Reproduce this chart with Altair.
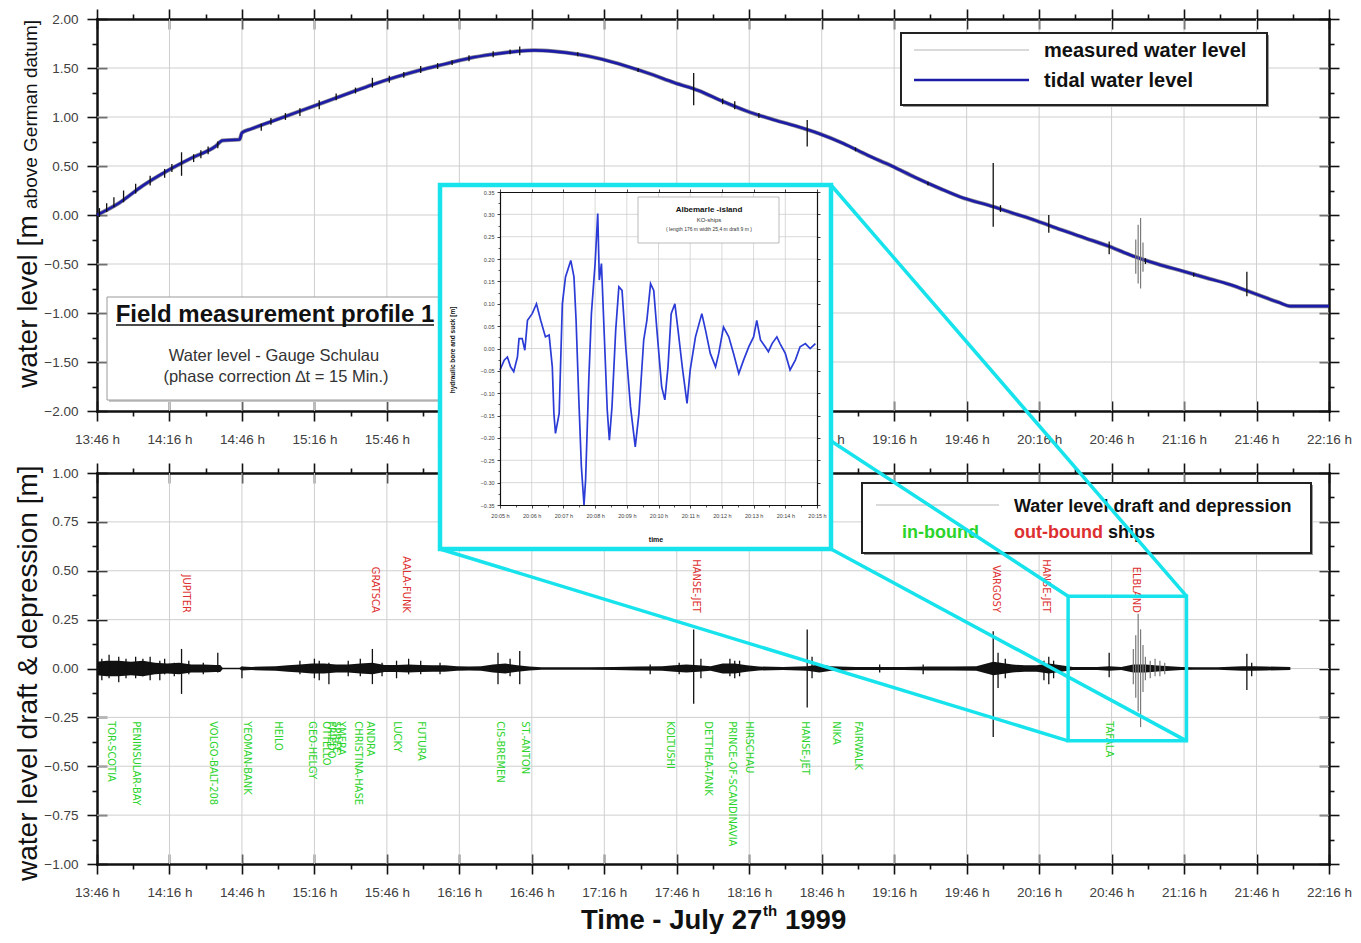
import altair as alt
import pandas as pd

DAY = "1999-07-27 "

# ---------------- axis tick values / labels ----------------
major_ticks = ["13:46", "14:16", "14:46", "15:16", "15:46", "16:16", "16:46", "17:16", "17:46",
               "18:16", "18:46", "19:16", "19:46", "20:16", "20:46", "21:16", "21:46", "22:16"]
minor_ticks = ["14:01", "14:31", "15:01", "15:31", "16:01", "16:31", "17:01", "17:31", "18:01",
               "18:31", "19:01", "19:31", "20:01", "20:31", "21:01", "21:31", "22:01"]
top_major_y = [-2.0, -1.5, -1.0, -0.5, 0.0, 0.5, 1.0, 1.5, 2.0]
top_minor_y = [-1.75, -1.25, -0.75, -0.25, 0.25, 0.75, 1.25, 1.75]
bot_major_y = [-1.0, -0.75, -0.5, -0.25, 0.0, 0.25, 0.5, 0.75, 1.0]
bot_minor_y = [-0.875, -0.625, -0.375, -0.125, 0.125, 0.375, 0.625, 0.875]
inset_major_t = ["20:05", "20:06", "20:07", "20:08", "20:09", "20:10", "20:11", "20:12", "20:13", "20:14", "20:15"]
inset_minor_t = ["20:05:30", "20:06:30", "20:07:30", "20:08:30", "20:09:30", "20:10:30", "20:11:30",
                 "20:12:30", "20:13:30", "20:14:30"]
inset_major_y = [-0.35, -0.30, -0.25, -0.20, -0.15, -0.10, -0.05, 0.00, 0.05, 0.10, 0.15, 0.20, 0.25, 0.30, 0.35]
inset_minor_y = [-0.325, -0.275, -0.225, -0.175, -0.125, -0.075, -0.025, 0.025, 0.075, 0.125, 0.175,
                 0.225, 0.275, 0.325]

# ---------------- tidal water level (upper panel) ----------------
tide_time = ["13:46", "13:55", "14:05", "14:15", "14:25", "14:35", "14:38", "14:45", "14:46", "14:50",
             "15:00", "15:10", "15:20", "15:30", "15:40", "15:50", "16:00", "16:10", "16:20", "16:30",
             "16:40", "16:47", "16:55", "17:05", "17:15", "17:25", "17:35", "17:45", "17:55", "18:05",
             "18:15", "18:25", "18:35", "18:45", "18:55", "19:05", "19:15", "19:25", "19:35", "19:45",
             "19:55", "20:05", "20:15", "20:25", "20:35", "20:45", "20:55", "21:05", "21:15", "21:25",
             "21:35", "21:45", "21:55", "22:00", "22:16"]
tide_level = [0.00, 0.12, 0.30, 0.45, 0.58, 0.70, 0.76, 0.77, 0.84, 0.88,
              0.97, 1.06, 1.15, 1.24, 1.33, 1.41, 1.48, 1.54, 1.60, 1.64,
              1.67, 1.68, 1.67, 1.64, 1.59, 1.52, 1.44, 1.35, 1.27, 1.16,
              1.06, 0.98, 0.91, 0.83, 0.73, 0.61, 0.50, 0.38, 0.27, 0.17,
              0.10, 0.02, -0.06, -0.15, -0.235, -0.32, -0.42, -0.50, -0.57, -0.64,
              -0.71, -0.80, -0.89, -0.93, -0.93]

# measured water level: ship induced excursions (upper panel)
top_spike_time = ["13:50", "13:53", "13:57", "14:02", "14:08", "14:14", "14:21", "14:26", "14:32", "14:54",
                  "15:10", "15:18", "15:40", "16:00", "16:20", "16:41", "17:53", "18:10", "18:40", "19:57",
                  "20:20", "20:45", "21:42"]
top_spike_hi = [0.12, 0.18, 0.25, 0.32, 0.40, 0.47, 0.64, 0.62, 0.70, 0.93,
                1.09, 1.17, 1.40, 1.52, 1.63, 1.72, 1.45, 1.16, 0.97, 0.53,
                0.00, -0.27, -0.58]
top_spike_lo = [0.03, 0.08, 0.13, 0.22, 0.30, 0.38, 0.40, 0.54, 0.62, 0.86,
                1.01, 1.08, 1.30, 1.45, 1.57, 1.63, 1.12, 1.08, 0.70, -0.12,
                -0.18, -0.40, -0.83]
# small jitter of the measured level along the tide curve
top_jitter_time = ["13:47", "14:17", "14:29", "14:36", "14:58", "15:04", "15:25", "15:33", "15:47", "15:53",
                   "16:07", "16:13", "16:30", "16:37", "17:05", "17:30", "18:05", "18:20", "19:00", "19:30",
                   "20:00", "21:00", "21:20"]
top_jitter_hi = [0.07, 0.52, 0.66, 0.75, 0.99, 1.04, 1.24, 1.30, 1.42, 1.46,
                 1.55, 1.58, 1.67, 1.69, 1.66, 1.50, 1.19, 1.04, 0.69, 0.34,
                 0.10, -0.44, -0.59]
top_jitter_lo = [-0.02, 0.44, 0.58, 0.68, 0.92, 0.97, 1.17, 1.24, 1.35, 1.40,
                 1.49, 1.53, 1.61, 1.64, 1.62, 1.46, 1.13, 0.99, 0.65, 0.30,
                 0.03, -0.50, -0.63]
top_gray_time = ["20:56", "20:57", "20:58", "20:59"]
top_gray_hi = [-0.25, -0.10, -0.03, -0.28]
top_gray_lo = [-0.60, -0.70, -0.75, -0.58]

# ---------------- draft and depression (lower panel) ----------------
env_time = ["13:46", "13:50", "13:55", "14:00", "14:05", "14:10", "14:15", "14:20", "14:25", "14:30",
            "14:35", "14:37", "14:38", "14:45", "14:46", "14:50", "14:55", "15:00", "15:05", "15:10",
            "15:15", "15:20", "15:25", "15:30", "15:35", "15:40", "15:45", "15:50", "15:55", "16:00",
            "16:05", "16:10", "16:15", "16:20", "16:25", "16:30", "16:35", "16:40", "16:45", "16:50",
            "17:00", "17:10", "17:20", "17:30", "17:40", "17:45", "17:50", "17:55", "18:00", "18:05",
            "18:10", "18:15", "18:20", "18:30", "18:40", "18:45", "18:50", "19:00", "19:10", "19:20",
            "19:30", "19:40", "19:50", "19:57", "20:00", "20:05", "20:10", "20:15", "20:20", "20:25",
            "20:30", "20:40", "20:45", "20:50", "20:55", "21:00", "21:05", "21:10", "21:15", "21:20",
            "21:30", "21:40", "21:45", "21:50", "22:00"]
env_amp = [0.035, 0.04, 0.04, 0.035, 0.04, 0.03, 0.025, 0.03, 0.02, 0.02,
           0.018, 0.018, 0.004, 0.004, 0.01, 0.008, 0.01, 0.012, 0.016, 0.02,
           0.025, 0.025, 0.02, 0.02, 0.025, 0.03, 0.018, 0.018, 0.02, 0.018,
           0.016, 0.016, 0.012, 0.01, 0.012, 0.02, 0.025, 0.016, 0.01, 0.006,
           0.006, 0.006, 0.008, 0.01, 0.012, 0.016, 0.02, 0.016, 0.012, 0.025,
           0.025, 0.016, 0.01, 0.008, 0.012, 0.02, 0.012, 0.008, 0.008, 0.008,
           0.01, 0.01, 0.012, 0.035, 0.03, 0.02, 0.016, 0.016, 0.025, 0.016,
           0.008, 0.008, 0.012, 0.008, 0.02, 0.02, 0.015, 0.012, 0.008, 0.006,
           0.006, 0.012, 0.012, 0.01, 0.008]

bspike_time = ["13:48", "13:51", "13:55", "13:58", "14:02", "14:05", "14:08", "14:12", "14:14", "14:18",
               "14:21", "14:24", "14:30", "14:36", "14:46", "15:10", "15:16", "15:18", "15:22", "15:30",
               "15:35", "15:40", "15:44", "15:50", "15:55", "16:00", "16:08", "16:32", "16:37", "16:41",
               "17:35", "17:47", "17:53", "17:56", "18:08", "18:10", "18:12", "18:40", "18:42", "19:10",
               "19:28", "19:57", "19:59", "20:02", "20:18", "20:20", "20:22", "20:45", "21:42", "21:44"]
bspike_hi = [0.05, 0.07, 0.06, 0.05, 0.06, 0.05, 0.06, 0.04, 0.05, 0.03,
             0.10, 0.04, 0.03, 0.08, 0.01, 0.04, 0.05, 0.04, 0.03, 0.04,
             0.05, 0.10, 0.03, 0.04, 0.05, 0.04, 0.03, 0.08, 0.05, 0.09,
             0.02, 0.03, 0.20, 0.05, 0.05, 0.04, 0.04, 0.20, 0.06, 0.02,
             0.02, 0.19, 0.08, 0.05, 0.04, 0.06, 0.04, 0.08, 0.075, 0.03]
bspike_lo = [-0.06, -0.05, -0.07, -0.05, -0.05, -0.04, -0.06, -0.06, -0.03, -0.04,
             -0.13, -0.03, -0.03, -0.02, -0.05, -0.03, -0.05, -0.06, -0.08, -0.04,
             -0.04, -0.08, -0.04, -0.05, -0.03, -0.03, -0.03, -0.08, -0.04, -0.08,
             -0.03, -0.03, -0.18, -0.05, -0.04, -0.05, -0.04, -0.20, -0.05, -0.02,
             -0.03, -0.35, -0.10, -0.05, -0.06, -0.08, -0.05, -0.045, -0.11, -0.04]
gspike_time = ["20:55", "20:56", "20:57", "20:58", "20:59", "21:00", "21:02", "21:04", "21:06", "21:08"]
gspike_hi = [0.10, 0.17, 0.28, 0.20, 0.12, 0.06, 0.04, 0.05, 0.04, 0.03]
gspike_lo = [-0.08, -0.15, -0.22, -0.30, -0.12, -0.06, -0.05, -0.04, -0.04, -0.03]

out_ship_time = ["14:23", "15:41", "15:54", "17:54", "19:58", "20:19", "20:56"]
out_ship_name = ["JUPITER", "GRATSCA", "AALA-FUNK", "HANSE-JET", "VARGOSY", "HANSE-JET", "ELBLAND"]
in_ship_time = ["13:52", "14:02", "14:34", "14:48", "15:01", "15:15", "15:21", "15:23", "15:25", "15:27",
                "15:34", "15:39", "15:50", "16:00", "16:33", "16:43", "17:43", "17:59", "18:09", "18:16",
                "18:39", "18:52", "19:01", "20:45"]
in_ship_name = ["TOR-SCOTIA", "PENINSULAR-BAY", "VOLGO-BALT-208", "YEOMAN-BANK", "HEILO", "GEO-HELGY",
                "OTTELLO", "FRIEDO", "SPREE", "YMERA", "CHRISTINA-HASE", "ANDRA", "LUCKY", "FUTURA",
                "CIS-BREMEN", "ST.-ANTON", "KOLTUSHI", "DETTHEA-TANK", "PRINCE-OF-SCANDINAVIA",
                "HIRSCHAU", "HANSE-JET", "NIKA", "FAIRWALK", "TAFALA"]

zoom_box_time = ["20:28", "21:17"]
zoom_box_level = [-0.37, 0.37]

# ---------------- inset: Albemarle-Island passage ----------------
inset_sec = [0, 7.6, 13.9, 20.2, 26.5, 32.8, 35.9, 42.2, 47.3, 51.7,
             61.1, 68.7, 76.9, 86.3, 92.6, 98.9, 102.1, 105.2, 111.5, 117.8,
             124.1, 133.6, 139.9, 144.3, 149.3, 154.4, 158.8, 161.9, 168.2, 173.3,
             179.6, 185.2, 188.4, 192.2, 196.6, 202.9, 207.3, 212.3, 218.6, 224.9,
             231.2, 237.5, 247.0, 256.4, 262.7, 272.2, 278.5, 284.8, 291.1, 297.4,
             305.6, 311.9, 318.2, 324.5, 330.8, 337.1, 344.6, 354.1, 360.4, 369.8,
             382.4, 388.7, 398.2, 407.6, 413.9, 423.4, 432.8, 442.3, 451.7, 461.2,
             470.6, 480.1, 486.4, 492.7, 502.1, 508.4, 514.7, 524.2, 530.5, 539.9,
             549.4, 558.8, 568.3, 577.7, 587.2, 596.6]
inset_val = [-0.048, -0.026, -0.019, -0.041, -0.052, -0.019, 0.022, 0.022, -0.004, 0.063,
             0.078, 0.100, 0.063, 0.026, 0.030, -0.041, -0.145, -0.190, -0.145, 0.100,
             0.160, 0.197, 0.160, 0.063, -0.108, -0.264, -0.350, -0.294, -0.071, 0.078,
             0.190, 0.302, 0.153, 0.190, 0.041, -0.138, -0.205, -0.130, 0.041, 0.138,
             0.130, 0.004, -0.130, -0.220, -0.145, 0.019, 0.063, 0.145, 0.130, 0.041,
             -0.086, -0.115, -0.041, 0.078, 0.100, 0.041, -0.041, -0.123, -0.048, 0.026,
             0.078, 0.041, -0.011, -0.041, -0.011, 0.048, 0.026, -0.011, -0.056, -0.026,
             0.004, 0.026, 0.063, 0.019, 0.004, -0.007, 0.011, 0.026, 0.011, -0.011,
             -0.048, -0.026, 0.004, 0.011, 0.000, 0.011]

# ---------------- helpers ----------------
W, H = 1232, 845
INK = "#111111"
GRID = "#cfcfcf"
CYAN = "#17e3ec"
GREEN = "#2bd42b"
RED = "#dd3030"
BLUE = "#1c1ca8"
SANS = "Liberation Sans, Arial, Helvetica, sans-serif"
NARROW = "Liberation Sans Narrow, Arial Narrow, DejaVu Sans Condensed, sans-serif"
ONE = pd.DataFrame({"k": [0]})


def T(s):
    return pd.Timestamp(DAY + (s if s.count(":") == 2 else s + ":00"))


def DT(s):
    t = T(s)
    return alt.DateTime(year=1999, month=7, date=27, hours=t.hour, minutes=t.minute, seconds=t.second)


XS = alt.Scale(domain=[DT("13:46"), DT("22:16")], range=[0, W], nice=False)
YT = alt.Scale(domain=[-2, 2], range=[392, 0], nice=False, zero=False)
YB = alt.Scale(domain=[-1, 1], range=[845, 454], nice=False, zero=False)
XI = alt.Scale(domain=[DT("20:05"), DT("20:15")], range=[403, 720], nice=False)
YI = alt.Scale(domain=[-0.35, 0.35], range=[486, 173], nice=False, zero=False)


def X(f, scale, axis=None):
    return alt.X(f, type="temporal", scale=scale, axis=axis)


def Y(f, scale, axis=None):
    return alt.Y(f, type="quantitative", scale=scale, axis=axis)


def ax(orient, values, offset=0, labels=False, domain=True, size=10, fmt=None,
       fs=13.5, pad=10, dw=2.5, tw=1.6, z=0, font=SANS):
    kw = dict(orient=orient, values=values, offset=offset, labels=labels, domain=domain,
              ticks=True, tickSize=size, tickWidth=tw, tickColor=INK, domainColor=INK,
              domainWidth=dw, domainCap="square", grid=False, title=None, zindex=z)
    if labels:
        kw.update(format=fmt, labelFont=font, labelFontSize=fs, labelColor="#404040",
                  labelPadding=pad, labelFlush=False, labelOverlap=False)
    return alt.Axis(**kw)


AXROW = pd.DataFrame({"t": [T("13:46")], "v": [0.0]})


def holder(xs, ys, xaxis, yaxis):
    return alt.Chart(AXROW).mark_point(opacity=0).encode(x=X("t", xs, xaxis), y=Y("v", ys, yaxis))


def rect(x0, y0, x1, y1, **mk):
    return alt.Chart(ONE).mark_rect(**mk).encode(
        x=alt.value(x0), x2=alt.value(x1), y=alt.value(y0), y2=alt.value(y1))


def seg(x0, y0, x1, y1, **mk):
    return alt.Chart(ONE).mark_rule(**mk).encode(
        x=alt.value(x0), x2=alt.value(x1), y=alt.value(y0), y2=alt.value(y1))


def txt(x, y, s, **mk):
    return alt.Chart(ONE).mark_text(**mk).encode(x=alt.value(x), y=alt.value(y), text=alt.value(s))


def px_t(s):
    span = (T("22:16") - T("13:46")).total_seconds()
    return (T(s) - T("13:46")).total_seconds() / span * W


def px_b(v):
    return 845 + (v + 1) / 2 * (454 - 845)


MAJ = [DT(s) for s in major_ticks]
MIN = [DT(s) for s in minor_ticks]
IMAJ = [DT(s) for s in inset_major_t]
IMIN = [DT(s) for s in inset_minor_t]

# ---------------- data frames ----------------
df_tide = pd.DataFrame({"t": [T(s) for s in tide_time], "v": tide_level})
df_tspk = pd.DataFrame({"t": [T(s) for s in top_spike_time + top_jitter_time],
                        "hi": top_spike_hi + top_jitter_hi, "lo": top_spike_lo + top_jitter_lo})
df_tgray = pd.DataFrame({"t": [T(s) for s in top_gray_time], "hi": top_gray_hi, "lo": top_gray_lo})
df_env = pd.DataFrame({"t": [T(s) for s in env_time], "hi": env_amp, "lo": [-a for a in env_amp]})
df_bspk = pd.DataFrame({"t": [T(s) for s in bspike_time], "hi": bspike_hi, "lo": bspike_lo})
df_gspk = pd.DataFrame({"t": [T(s) for s in gspike_time], "hi": gspike_hi, "lo": gspike_lo})
df_out = pd.DataFrame({"t": [T(s) for s in out_ship_time], "name": out_ship_name, "y": 0.285})
df_in = pd.DataFrame({"t": [T(s) for s in in_ship_time], "name": in_ship_name, "y": -0.27})
df_box = pd.DataFrame({"t0": [T(zoom_box_time[0])], "t1": [T(zoom_box_time[1])],
                       "v0": [zoom_box_level[0]], "v1": [zoom_box_level[1]]})
df_ins = pd.DataFrame({"t": [T("20:05") + pd.Timedelta(seconds=round(s)) for s in inset_sec], "v": inset_val})

inner_major = [T(s) for s in major_ticks[1:-1]]
df_vg_top = pd.DataFrame({"t": inner_major, "lo": -2.0, "hi": 2.0})
df_hg_top = pd.DataFrame({"v": top_major_y[1:-1], "t0": T("13:46"), "t1": T("22:16")})
df_vg_bot = pd.DataFrame({"t": inner_major, "lo": -1.0, "hi": 1.0})
df_hg_bot = pd.DataFrame({"v": bot_major_y[1:-1], "t0": T("13:46"), "t1": T("22:16")})
df_vg_ins = pd.DataFrame({"t": [T(s) for s in inset_major_t[1:-1]], "lo": -0.35, "hi": 0.35})
df_hg_ins = pd.DataFrame({"v": inset_major_y[1:-1], "t0": T("20:05"), "t1": T("20:15")})

# inset frame (plot px) and connector lines to the zoom box
IX0, IY0, IX1, IY1 = 343, 166, 734, 530
bx0, bx1 = px_t(zoom_box_time[0]), px_t(zoom_box_time[1])
by_top, by_bot = px_b(zoom_box_level[1]), px_b(zoom_box_level[0])
df_conn = pd.DataFrame({"x": [IX0, IX1, IX0, IX1], "y": [IY0, IY0, IY1, IY1],
                        "x2": [bx0, bx1, bx0, bx1], "y2": [by_top, by_top, by_bot, by_bot]})

layers = []

# ---- grids ----
for dv, dh, ys, xs in [(df_vg_top, df_hg_top, YT, XS), (df_vg_bot, df_hg_bot, YB, XS)]:
    layers.append(alt.Chart(dv).mark_rule(color=GRID, strokeWidth=1).encode(
        x=X("t", xs), y=Y("lo", ys), y2=alt.Y2("hi")))
    layers.append(alt.Chart(dh).mark_rule(color=GRID, strokeWidth=1).encode(
        y=Y("v", ys), x=X("t0", xs), x2=alt.X2("t1")))

# ---- axes of upper panel ----
layers += [
    holder(XS, YT, ax("bottom", MAJ, offset=-453, labels=True, fmt="%H:%M h", pad=11),
           ax("left", top_major_y, labels=True, fmt=".2f", pad=9)),
    holder(XS, YT, ax("top", MAJ), ax("right", top_major_y)),
    holder(XS, YT, ax("bottom", MIN, offset=-453, domain=False, size=5),
           ax("left", top_minor_y, domain=False, size=5)),
    holder(XS, YT, ax("top", MIN, domain=False, size=5), ax("right", top_minor_y, domain=False, size=5)),
    holder(XS, YT, ax("bottom", MAJ, offset=-463, domain=False), ax("left", top_major_y, offset=-10, domain=False)),
    holder(XS, YT, ax("top", MAJ, offset=-10, domain=False), ax("right", top_major_y, offset=-10, domain=False)),
]
# ---- axes of lower panel ----
layers += [
    holder(XS, YB, ax("bottom", MAJ, labels=True, fmt="%H:%M h", pad=11),
           ax("left", bot_major_y, labels=True, fmt=".2f", pad=9)),
    holder(XS, YB, ax("top", MAJ, offset=-454), ax("right", bot_major_y)),
    holder(XS, YB, ax("bottom", MIN, domain=False, size=5), ax("left", bot_minor_y, domain=False, size=5)),
    holder(XS, YB, ax("top", MIN, offset=-454, domain=False, size=5),
           ax("right", bot_minor_y, domain=False, size=5)),
    holder(XS, YB, ax("bottom", MAJ, offset=-10, domain=False), ax("left", bot_major_y, offset=-10, domain=False)),
    holder(XS, YB, ax("top", MAJ, offset=-464, domain=False), ax("right", bot_major_y, offset=-10, domain=False)),
]

# ---- upper panel boxes ----
layers += [
    rect(12, 280, 344, 383, color="#c8c8c8"),
    rect(10, 278, 342, 381, fill="white", stroke="#9a9a9a", strokeWidth=1),
    txt(178, 303, "Field measurement profile 1", font=SANS, fontSize=24, fontWeight="bold",
        align="center", baseline="alphabetic", color=INK),
    seg(19, 306, 337, 306, color=INK, strokeWidth=1.6),
    txt(177, 342, "Water level - Gauge Schulau", font=SANS, fontSize=16.5, align="center",
        baseline="alphabetic", color="#333333"),
    txt(179, 363, "(phase correction \u2206t = 15 Min.)", font=SANS, fontSize=16.5, align="center",
        baseline="alphabetic", color="#333333"),
    rect(806, 16, 1172, 88, color="#9a9a9a"),
    rect(804, 14, 1170, 86, fill="white", stroke="#222222", strokeWidth=2),
    seg(817, 31, 932, 31, color="#b5b5b5", strokeWidth=1.2),
    txt(947, 38, "measured water level", font=SANS, fontSize=20, fontWeight="bold", align="left",
        baseline="alphabetic", color=INK),
    seg(817, 61, 932, 61, color=BLUE, strokeWidth=2.5),
    txt(947, 68, "tidal water level", font=SANS, fontSize=20, fontWeight="bold", align="left",
        baseline="alphabetic", color=INK),
]

# ---- upper panel data ----
layers += [
    alt.Chart(df_tide).mark_line(color="#222233", strokeWidth=4, opacity=0.55, interpolate="monotone").encode(
        x=X("t", XS), y=Y("v", YT)),
    alt.Chart(df_tide).mark_line(color=BLUE, strokeWidth=2.6, interpolate="monotone").encode(
        x=X("t", XS), y=Y("v", YT)),
    alt.Chart(df_tspk).mark_rule(color=INK, strokeWidth=1.3).encode(
        x=X("t", XS), y=Y("hi", YT), y2=alt.Y2("lo")),
    alt.Chart(df_tgray).mark_rule(color="#7a7a7a", strokeWidth=1.2).encode(
        x=X("t", XS), y=Y("hi", YT), y2=alt.Y2("lo")),
]

# ---- lower panel data ----
layers += [
    alt.Chart(df_env).mark_area(color=INK, opacity=1).encode(
        x=X("t", XS), y=Y("hi", YB), y2=alt.Y2("lo")),
    alt.Chart(df_bspk).mark_rule(color=INK, strokeWidth=1.3).encode(
        x=X("t", XS), y=Y("hi", YB), y2=alt.Y2("lo")),
    alt.Chart(df_gspk).mark_rule(color="#7a7a7a", strokeWidth=1.2).encode(
        x=X("t", XS), y=Y("hi", YB), y2=alt.Y2("lo")),
    alt.Chart(df_out).mark_text(angle=90, align="right", baseline="middle", font=NARROW,
                                fontSize=11, color=RED).encode(
        x=X("t", XS), y=Y("y", YB), text=alt.Text("name:N")),
    alt.Chart(df_in).mark_text(angle=90, align="left", baseline="middle", font=NARROW,
                               fontSize=11, color=GREEN).encode(
        x=X("t", XS), y=Y("y", YB), text=alt.Text("name:N")),
]

# ---- lower legend ----
layers += [
    rect(767, 466, 1216, 536, color="#9a9a9a"),
    rect(765, 464, 1214, 534, fill="white", stroke="#222222", strokeWidth=2),
    seg(779, 486, 902, 486, color="#b5b5b5", strokeWidth=1.2),
    txt(917, 493, "Water level draft and depression", font=SANS, fontSize=18, fontWeight="bold",
        align="left", baseline="alphabetic", color=INK),
    txt(805, 519, "in-bound", font=SANS, fontSize=18, fontWeight="bold", align="left",
        baseline="alphabetic", color=GREEN),
    txt(917, 519, "out-bound", font=SANS, fontSize=18, fontWeight="bold", align="left",
        baseline="alphabetic", color=RED),
    txt(1011, 519, "ships", font=SANS, fontSize=18, fontWeight="bold", align="left",
        baseline="alphabetic", color=INK),
]

# ---- axis titles ----
layers += [
    txt(-60, 369, "water level [m", font=SANS, fontSize=28, angle=270, align="left",
        baseline="alphabetic", color=INK),
    txt(-60, 190, "above German datum]", font=SANS, fontSize=19, angle=270, align="left",
        baseline="alphabetic", color=INK),
    txt(-60, 862, "water level draft  & depression [m]", font=SANS, fontSize=28, angle=270,
        align="left", baseline="alphabetic", color=INK),
    txt(484, 910, "Time - July 27", font=SANS, fontSize=27.5, fontWeight="bold", align="left",
        baseline="alphabetic", color=INK),
    txt(666, 897, "th", font=SANS, fontSize=15, fontWeight="bold", align="left",
        baseline="alphabetic", color=INK),
    txt(688, 910, "1999", font=SANS, fontSize=27.5, fontWeight="bold", align="left",
        baseline="alphabetic", color=INK),
]

# ---- zoom box + connectors + inset ----
layers += [
    alt.Chart(df_box).mark_rect(stroke=CYAN, strokeWidth=3.5, fillOpacity=0, color=CYAN).encode(
        x=X("t0", XS), x2=alt.X2("t1"), y=Y("v1", YB), y2=alt.Y2("v0")),
    alt.Chart(df_conn).mark_rule(color=CYAN, strokeWidth=3.5).encode(
        x=alt.X("x:Q", scale=None, axis=None), y=alt.Y("y:Q", scale=None, axis=None),
        x2=alt.X2("x2:Q"), y2=alt.Y2("y2:Q")),
    rect(IX0, IY0, IX1, IY1, fill="white", stroke=CYAN, strokeWidth=4.5),
    alt.Chart(df_vg_ins).mark_rule(color=GRID, strokeWidth=0.8).encode(
        x=X("t", XI), y=Y("lo", YI), y2=alt.Y2("hi")),
    alt.Chart(df_hg_ins).mark_rule(color=GRID, strokeWidth=0.8).encode(
        y=Y("v", YI), x=X("t0", XI), x2=alt.X2("t1")),
    holder(XI, YI, ax("bottom", IMAJ, offset=-359, labels=True, fmt="%H:%M h", fs=5.5, pad=5, size=3,
                      dw=1.2, tw=0.8, z=2),
           ax("left", inset_major_y, offset=-403, labels=True, fmt=".2f", fs=5.5, pad=3, size=3,
              dw=1.2, tw=0.8, z=2)),
    holder(XI, YI, ax("top", IMAJ, offset=-173, size=3, dw=1.2, tw=0.8, z=2),
           ax("right", inset_major_y, offset=-512, size=3, dw=1.2, tw=0.8, z=2)),
    holder(XI, YI, ax("bottom", IMIN, offset=-359, domain=False, size=2, tw=0.7, z=2),
           ax("left", inset_minor_y, offset=-403, domain=False, size=2, tw=0.7, z=2)),
    alt.Chart(df_ins).mark_line(color="#2b3bd6", strokeWidth=1.7).encode(
        x=X("t", XI), y=Y("v", YI)),
    rect(541, 178, 682, 224, fill="white", stroke="#aaaaaa", strokeWidth=0.8),
    txt(612, 193, "Albemarle -island", font=SANS, fontSize=8, fontWeight="bold", align="center",
        baseline="alphabetic", color=INK),
    txt(612, 203, "KO-ships", font=SANS, fontSize=6, align="center", baseline="alphabetic", color="#333333"),
    txt(612, 212, "( length 176 m width 25,4 m draft 9 m )", font=SANS, fontSize=5, align="center",
        baseline="alphabetic", color="#333333"),
    txt(356, 331, "hydraulic bore and suck [m]", font=SANS, fontSize=6.5, fontWeight="bold", angle=270,
        align="center", baseline="middle", color=INK),
    txt(559, 521, "time", font=SANS, fontSize=7, fontWeight="bold", align="center",
        baseline="middle", color=INK),
]

chart = (
    alt.layer(*layers)
    .resolve_scale(x="independent", y="independent")
    .properties(width=W, height=H, background="white",
                autosize=alt.AutoSizeParams(type="none"),
                padding={"left": 89, "top": 11, "right": 24, "bottom": 70})
    .configure_view(stroke="transparent")
)

chart.save("out.html", embed_options={"renderer": "svg", "actions": False})
